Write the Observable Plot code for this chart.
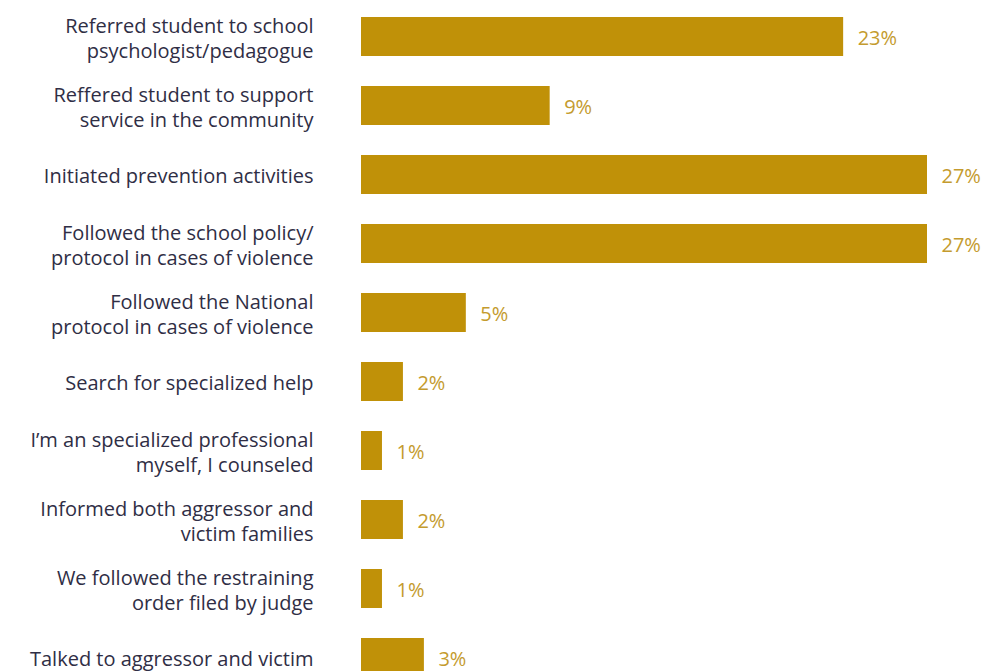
<!DOCTYPE html>
<html>
<head>
<meta charset="utf-8">
<script src="https://cdn.jsdelivr.net/npm/d3@7"></script>
<script src="https://cdn.jsdelivr.net/npm/@observablehq/plot@0.6"></script>
<style>
  html, body { margin: 0; padding: 0; background: #fff; overflow: hidden; }
  #chart { width: 982px; }
</style>
</head>
<body>
<div id="chart"></div>
<script>
const categories = [
  "Referred student to school\npsychologist/pedagogue",
  "Reffered student to support\nservice in the community",
  "Initiated prevention activities",
  "Followed the school policy/\nprotocol in cases of violence",
  "Followed the National\nprotocol in cases of violence",
  "Search for specialized help",
  "I’m an specialized professional\nmyself, I counseled",
  "Informed both aggressor and\nvictim families",
  "We followed the restraining\norder filed by judge",
  "Talked to aggressor and victim"
];
const values = [23, 9, 27, 27, 5, 2, 1, 2, 1, 3];

const data = categories.map((c, i) => ({cat: c, value: values[i]}));

const chart = Plot.plot({
  width: 982,
  height: 692,
  marginLeft: 361,
  marginRight: 55,
  marginTop: 1.7,
  marginBottom: 0,
  style: {fontFamily: "'Open Sans', sans-serif", fontSize: "20px", background: "#fff", overflow: "visible"},
  x: {domain: [0, 27], axis: null},
  y: {domain: categories, paddingInner: 0.435, paddingOuter: 0.2175, align: 0.5, label: null},
  marks: [
    Plot.axisY({tickSize: 0, tickPadding: 48, fill: "#2f2e45", fontSize: 20, lineHeight: 1.25, label: null}),
    Plot.barX(data, {x: "value", y: "cat", fill: "#C09108"}),
    Plot.text(data, {x: "value", y: "cat", text: d => d.value + "%", dx: 14, dy: 2, textAnchor: "start", fill: "#C49B2E", fontSize: 20})
  ]
});
document.getElementById("chart").appendChild(chart);
</script>
</body>
</html>
